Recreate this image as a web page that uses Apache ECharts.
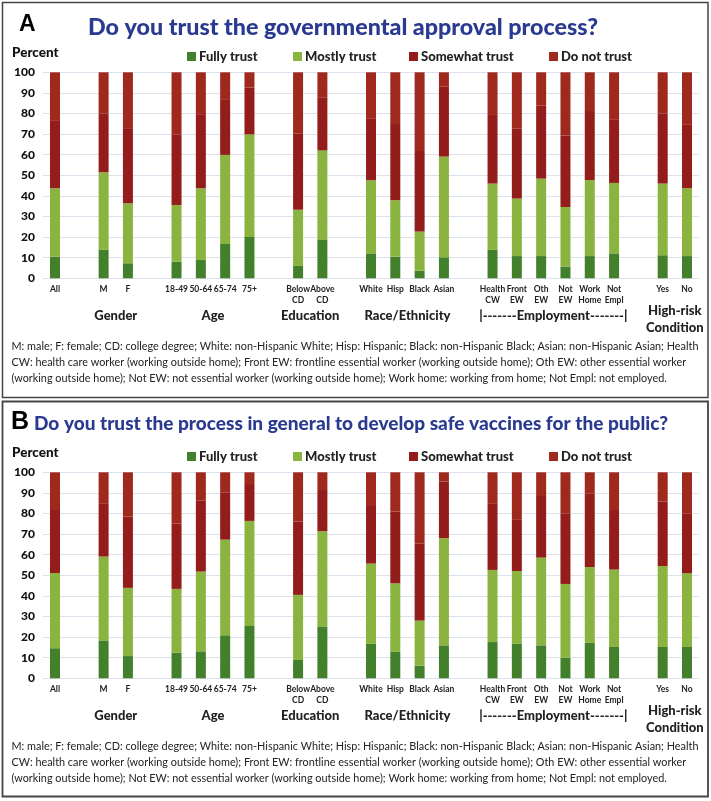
<!DOCTYPE html>
<html><head><meta charset="utf-8">
<script src="https://cdn.jsdelivr.net/npm/echarts@6/dist/echarts.min.js"></script>
<style>html,body{margin:0;padding:0;background:#fff}#c{width:711px;height:801px}</style>
</head><body><div id="c"></div>
<script>
// ---------- data ----------
const categories = ['All','gap1','M','F','gap2','18-49','50-64','65-74','75+','gap3','Below\nCD','Above\nCD','gap4','White','Hisp','Black','Asian','gap5','Health\nCW','Front\nEW','Oth\nEW','Not\nEW','Work\nHome','Not\nEmpl','gap6','Yes','No'];
const seriesNames = ['Fully trust','Mostly trust','Somewhat trust','Do not trust'];
const yTicks = [0,10,20,30,40,50,60,70,80,90,100];

// Panel A: Do you trust the governmental approval process?
const aFully    = [10.5,null,13.8, 7.3,null, 8.1, 8.9,16.7,20.1,null, 6.0,18.6,null,12.1,10.5, 3.7,10.2,null,13.8,10.8,10.8, 5.7,10.8,12.1,null,11.2,10.8];
const aMostly   = [33.2,null,37.7,29.1,null,27.5,34.8,43.2,49.8,null,27.3,43.5,null,35.5,27.4,19.0,48.9,null,32.2,27.9,37.6,28.9,36.9,34.2,null,34.8,32.9];
const aSomewhat = [32.7,null,28.6,36.1,null,34.3,35.6,26.7,22.7,null,37.1,25.8,null,30.1,37.0,39.1,33.9,null,33.3,34.1,35.4,34.7,33.5,30.6,null,34.1,31.1];
const aNot      = [23.6,null,19.9,27.5,null,30.1,20.7,13.4, 7.4,null,29.6,12.1,null,22.3,25.1,38.2, 7.0,null,20.7,27.2,16.2,30.7,18.8,23.1,null,19.9,25.2];

// Panel B: Do you trust the process in general to develop safe vaccines for the public?
const bFully    = [14.6,null,18.4,10.8,null,12.5,13.1,20.9,25.4,null, 8.9,25.2,null,16.7,12.8, 6.1,16.0,null,17.6,16.7,16.0,10.0,17.2,15.2,null,15.2,15.2];
const bMostly   = [36.5,null,40.7,33.1,null,30.9,38.7,46.4,51.0,null,31.6,46.2,null,39.0,33.3,21.9,52.0,null,35.0,35.4,42.6,35.8,36.8,37.6,null,39.3,35.8];
const bSomewhat = [30.6,null,25.9,34.6,null,31.8,34.4,23.0,17.9,null,35.6,20.0,null,28.4,34.8,37.5,27.5,null,32.4,24.8,29.9,34.3,35.8,28.9,null,31.3,29.1];
const bNot      = [18.3,null,15.0,21.5,null,24.8,13.8, 9.7, 5.7,null,23.9, 8.6,null,15.9,19.1,34.5, 4.5,null,15.0,23.1,11.5,19.9,10.2,18.3,null,14.2,19.9];

const groupLabels = [
  {text:'Gender', from:2, to:3},
  {text:'Age', from:5, to:8},
  {text:'Education', from:10, to:11},
  {text:'Race/Ethnicity', from:13, to:16},
  {text:'|-------Employment-------|', from:18, to:23},
  {text:'High-risk\nCondition', from:25, to:26}
];
const panels = [
  {letter:'A', title:'Do you trust the governmental approval process?', values:[aFully,aMostly,aSomewhat,aNot]},
  {letter:'B', title:'Do you trust the process in general to develop safe vaccines for the public?', values:[bFully,bMostly,bSomewhat,bNot]}
];
const footLines = [
  'M: male; F: female; CD: college degree; White: non-Hispanic White; Hisp: Hispanic; Black: non-Hispanic Black; Asian: non-Hispanic Asian; Health',
  'CW: health care worker (working outside home); Front EW: frontline essential worker (working outside home); Oth EW: other essential worker',
  '(working outside home); Not EW: not essential worker (working outside home); Work home: working from home; Not Empl: not employed.'
];

// ---------- styling / layout ----------
const colors = ['#43802C','#8AB43F','#921D1A','#A0291D'];
const legendLeft = [182, 288, 404, 544];
const FONT = 'Lato';
const OFF = 400;
const gridLeft = 42.85, gridW = 656.3, gridTop = 72.3, gridH = 206;
const ctx = document.createElement('canvas').getContext('2d');
function fit(text, font, target){ ctx.font = font; return target / ctx.measureText(text).width; }

const chart = echarts.init(document.getElementById('c'));
const grids = [], xAxes = [], yAxes = [], series = [], legends = [];
panels.forEach((p, i) => {
  grids.push({left:gridLeft, top:gridTop + i*OFF, width:gridW, height:gridH});
  xAxes.push({type:'category', gridIndex:i, data:categories,
    axisLine:{show:false}, axisTick:{show:false},
    axisLabel:{interval:0, margin:5, fontFamily:FONT, fontWeight:'bold', fontSize:8.5, lineHeight:11.5, color:'#222',
      formatter: v => v.startsWith('gap') ? '' : v}});
  yAxes.push({type:'value', gridIndex:i, min:0, max:100, interval:10,
    axisLine:{show:false}, axisTick:{show:false},
    axisLabel:{margin:8, fontFamily:FONT, fontWeight:900, fontSize:12, color:'#111',
      formatter: v => yTicks.includes(v) ? String(v) : ''},
    splitLine:{lineStyle:{color:'#DCE1EC', width:1}}});
  seriesNames.forEach((n, k) => {
    series.push({type:'bar', name:n, xAxisIndex:i, yAxisIndex:i, stack:'p'+i, barWidth:10,
      itemStyle:{color:colors[k]}, data:p.values[k], silent:true});
    legends.push({data:[n], left:legendLeft[k], top:45 + i*OFF, itemWidth:9, itemHeight:9,
      icon:'rect', selectedMode:false,
      textStyle:{fontFamily:FONT, fontWeight:900, fontSize:13, color:'#222', padding:[0,0,0,-2]}});
  });
});

chart.setOption({
  animation:false,
  grid:grids, xAxis:xAxes, yAxis:yAxes, series:series, legend:legends
});

const g = [];
g.push({type:'rect', shape:{x:2.5, y:2.5, width:705.5, height:395}, style:{fill:'none', stroke:'#444', lineWidth:1.5}, z:0});
g.push({type:'rect', shape:{x:2.5, y:401.5, width:705.5, height:395}, style:{fill:'none', stroke:'#444', lineWidth:1.8}, z:0});

const titleCfg = [
  {x:88, y:28, size:23, w:510, lx:19, ly:25, lsize:23},
  {x:34, y:424, size:18.5, w:634, lx:11, ly:422, lsize:25}
];
panels.forEach((p, i) => {
  const tc = titleCfg[i];
  g.push({type:'text', x:tc.lx, y:tc.ly, style:{text:p.letter, font:'bold '+tc.lsize+'px "Liberation Sans"', fill:'#000', textVerticalAlign:'middle'}});
  const tf = '900 '+tc.size+'px '+FONT;
  g.push({type:'text', x:tc.x, y:tc.y, scaleX:fit(p.title, tf, tc.w),
    style:{text:p.title, font:tf, fill:'#2A3A90', textVerticalAlign:'middle'}});
  g.push({type:'text', x:12, y:53 + i*OFF, style:{text:'Percent', font:'900 13.5px '+FONT, fill:'#111', textVerticalAlign:'middle'}});
  groupLabels.forEach(gl => {
    const x1 = chart.convertToPixel({xAxisIndex:i}, categories[gl.from]);
    const x2 = chart.convertToPixel({xAxisIndex:i}, categories[gl.to]);
    const multi = gl.text.includes('\n');
    g.push({type:'text', x:(x1+x2)/2, y:(multi ? 303 : 316) + i*OFF,
      style:{text:gl.text, font:'900 13px '+FONT, fill:'#222', textAlign:'center',
        textVerticalAlign: multi ? 'top' : 'middle', lineHeight:16.5}});
  });
  const ff = '12px '+FONT;
  const fs = fit(footLines[0], ff, 687);
  footLines.forEach((t, k) => {
    g.push({type:'text', x:11.5, y:346 + k*16.2 + i*OFF, scaleX:fs,
      style:{text:t, font:ff, fill:'#222', textVerticalAlign:'middle'}});
  });
});
chart.setOption({graphic:g});
</script>
</body></html>
